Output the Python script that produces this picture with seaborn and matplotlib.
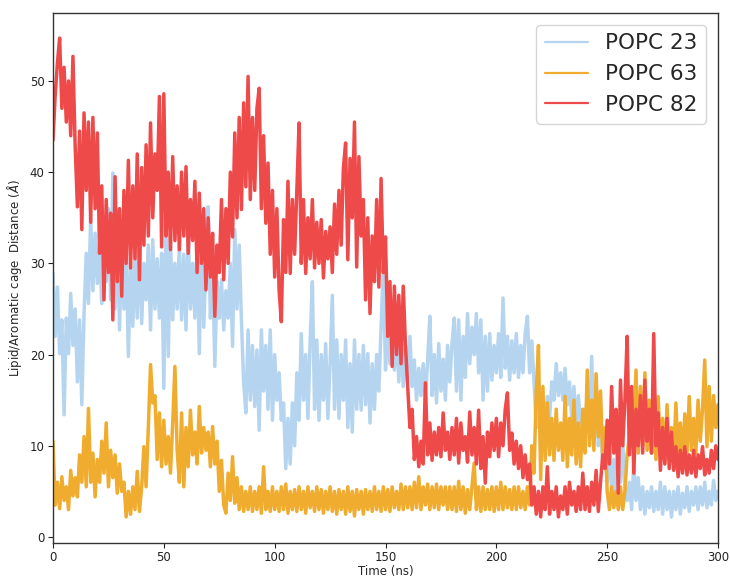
import numpy as np
import pandas as pd
import seaborn as sns
import matplotlib
matplotlib.use("Agg")
import matplotlib.pyplot as plt

# Time axis: one sample per ns, 0..300 ns
time_ns = list(range(0, 301))

popc23 = [
    28.9, 22.0, 27.4, 20.1, 23.8, 13.4, 24.0, 20.1, 26.7, 21.0,
    25.0, 17.0, 23.8, 14.5, 24.5, 31.1, 25.6, 35.1, 27.0, 33.3,
    27.8, 32.0, 25.6, 34.0, 28.0, 36.0, 26.0, 39.9, 25.0, 35.5,
    22.7, 33.0, 25.0, 31.8, 19.8, 30.0, 23.1, 31.0, 24.0, 32.9,
    23.4, 30.0, 26.0, 32.0, 22.7, 32.6, 25.0, 30.5, 24.0, 31.1,
    16.3, 36.0, 19.8, 32.6, 23.8, 30.0, 25.0, 32.0, 23.8, 31.0,
    22.7, 33.3, 25.0, 30.0, 24.0, 32.0, 20.1, 34.0, 23.0, 30.0,
    36.2, 24.0, 30.0, 18.7, 28.0, 24.0, 28.2, 22.7, 27.0, 24.0,
    30.0, 20.9, 33.7, 25.0, 32.0, 23.8, 17.0, 13.6, 22.7, 15.0,
    21.0, 14.3, 20.5, 11.7, 22.7, 16.0, 21.0, 14.0, 22.7, 12.8,
    20.0, 15.0, 18.0, 12.8, 14.7, 7.5, 13.0, 8.0, 14.7, 10.0,
    18.0, 12.8, 22.3, 15.0, 20.0, 13.0, 21.5, 28.0, 14.0, 21.6,
    12.8, 20.0, 15.0, 21.2, 13.0, 19.0, 26.5, 14.0, 21.6, 13.0,
    20.0, 15.0, 21.6, 12.0, 19.0, 11.5, 21.6, 14.0, 20.0, 13.9,
    21.0, 14.5, 20.1, 12.5, 19.0, 14.0, 20.0, 16.0, 23.0, 29.6,
    18.3, 23.8, 19.0, 22.5, 18.3, 23.0, 17.0, 22.3, 16.5, 21.0,
    17.0, 22.0, 16.5, 19.4, 15.0, 18.5, 15.5, 19.0, 15.0, 19.4,
    24.2, 15.5, 20.0, 14.7, 21.2, 16.0, 19.5, 15.0, 21.0, 17.0,
    21.2, 24.0, 16.0, 23.8, 15.0, 22.0, 17.5, 24.5, 19.0, 23.0,
    20.0, 24.5, 18.0, 23.8, 15.0, 22.0, 16.0, 22.3, 17.2, 21.0,
    18.0, 22.3, 17.5, 26.2, 18.5, 22.0, 17.2, 21.5, 18.0, 22.3,
    17.5, 21.0, 18.0, 22.3, 24.2, 18.0, 21.5, 17.0, 12.0, 15.0,
    9.2, 14.0, 12.5, 15.4, 13.0, 17.0, 15.0, 19.0, 15.5, 18.0,
    15.0, 18.5, 14.5, 17.0, 13.0, 16.5, 12.1, 15.5, 12.5, 14.0,
    11.0, 16.0, 12.0, 19.8, 11.0, 17.0, 10.0, 13.0, 8.0, 10.0,
    6.0, 9.9, 5.0, 8.5, 4.6, 9.0, 6.0, 10.5, 5.5, 4.0,
    6.0, 3.0, 8.1, 4.0, 6.5, 3.0, 5.5, 2.5, 5.0, 3.2,
    5.5, 2.8, 5.0, 3.0, 6.0, 2.5, 5.5, 3.0, 5.0, 2.2,
    5.0, 3.0, 5.5, 2.5, 4.8, 3.2, 5.5, 2.8, 5.0, 3.5,
    5.5, 3.0, 5.5, 3.5, 6.0, 3.2, 5.0, 3.5, 6.2, 4.0,
    5.0,
]

popc63 = [
    10.5, 3.5, 6.0, 3.1, 6.6, 4.0, 5.5, 3.0, 7.3, 4.5,
    6.5, 4.4, 9.0, 6.0, 11.0, 5.5, 14.1, 6.0, 9.2, 4.4,
    8.5, 6.0, 10.5, 7.0, 12.5, 5.5, 9.5, 6.5, 9.0, 4.8,
    8.0, 5.0, 6.0, 2.2, 5.0, 2.5, 5.5, 3.0, 7.2, 2.8,
    5.5, 9.9, 5.5, 12.0, 18.9, 14.7, 15.5, 8.5, 13.6, 7.7,
    12.8, 8.0, 11.0, 7.0, 12.5, 18.7, 9.5, 6.0, 13.6, 5.5,
    12.0, 7.7, 13.9, 9.0, 11.5, 8.0, 14.3, 9.2, 12.0, 9.5,
    11.5, 7.7, 12.1, 8.0, 10.5, 5.0, 8.4, 3.5, 2.6, 7.0,
    4.0, 8.8, 3.7, 6.5, 3.0, 5.5, 2.8, 5.0, 3.0, 5.5,
    2.8, 5.0, 3.0, 5.5, 2.6, 7.7, 3.0, 5.0, 2.8, 5.5,
    3.0, 5.0, 2.8, 5.5, 3.0, 5.8, 2.6, 5.0, 3.0, 5.2,
    2.8, 5.5, 3.0, 5.0, 2.6, 5.5, 3.2, 5.0, 2.8, 5.5,
    3.0, 5.2, 2.6, 5.0, 3.0, 5.5, 2.8, 5.0, 2.5, 5.2,
    3.0, 5.0, 2.5, 5.5, 2.8, 5.0, 2.3, 5.2, 3.0, 5.0,
    2.5, 5.2, 3.0, 5.0, 2.8, 5.5, 3.0, 5.0, 2.8, 5.5,
    3.0, 5.2, 2.8, 5.5, 3.2, 5.0, 3.0, 5.8, 3.0, 5.5,
    3.2, 5.5, 3.0, 6.0, 3.2, 6.6, 3.0, 5.5, 3.5, 5.8,
    3.0, 5.5, 3.2, 5.8, 3.0, 5.5, 3.5, 5.5, 3.0, 5.5,
    3.0, 5.5, 2.8, 6.1, 3.0, 5.5, 2.6, 5.2, 3.0, 5.5,
    8.1, 3.0, 5.5, 2.8, 5.5, 3.0, 5.2, 3.0, 5.5, 2.8,
    5.5, 3.0, 6.0, 3.0, 5.5, 3.2, 5.2, 3.0, 5.5, 3.0,
    5.5, 3.2, 5.0, 3.0, 5.5, 3.5, 10.0, 7.0, 16.0, 21.0,
    6.3, 16.5, 8.4, 14.7, 9.0, 13.0, 8.4, 14.0, 9.5, 12.5,
    8.4, 15.4, 7.7, 13.0, 9.0, 15.0, 8.0, 12.5, 7.7, 14.0,
    9.2, 18.3, 10.0, 15.0, 9.5, 17.9, 11.0, 16.0, 8.5, 12.0,
    5.0, 3.0, 5.5, 3.2, 5.0, 3.0, 5.5, 3.0, 5.0, 9.0,
    11.0, 14.0, 12.5, 18.3, 9.2, 16.5, 10.0, 18.0, 9.5, 15.0,
    9.2, 16.0, 8.5, 15.4, 9.0, 13.0, 8.1, 14.5, 8.5, 12.0,
    8.5, 14.7, 9.0, 12.5, 8.1, 13.5, 9.0, 15.4, 9.5, 13.0,
    9.2, 15.0, 10.5, 14.0, 19.4, 9.9, 16.5, 10.5, 15.5, 12.0,
    14.5,
]

popc82 = [
    43.5, 48.5, 52.0, 54.7, 47.0, 51.5, 45.5, 50.0, 44.0, 52.7,
    42.8, 36.2, 44.5, 33.7, 46.5, 38.0, 45.5, 34.5, 46.0, 36.0,
    44.3, 31.1, 38.5, 26.0, 37.0, 29.0, 35.5, 23.8, 39.5, 28.0,
    36.0, 26.4, 38.0, 30.0, 41.3, 29.5, 38.5, 30.5, 42.0, 28.2,
    40.5, 32.0, 43.0, 33.0, 45.4, 35.0, 42.0, 38.0, 48.3, 31.8,
    48.6, 33.0, 40.0, 31.5, 41.7, 32.5, 38.5, 31.5, 40.0, 33.0,
    40.6, 31.1, 37.0, 32.5, 39.0, 29.0, 37.7, 30.0, 36.0, 27.1,
    35.0, 28.5, 33.3, 24.2, 32.0, 29.0, 37.0, 28.2, 36.0, 30.0,
    40.0, 32.9, 44.3, 35.0, 46.0, 35.9, 47.6, 38.4, 50.5, 37.0,
    46.0, 38.0, 47.0, 49.2, 36.0, 44.0, 34.4, 41.0, 31.0, 38.0,
    28.5, 36.0, 27.0, 23.6, 34.8, 29.0, 39.0, 28.9, 37.0, 31.0,
    38.0, 45.4, 30.0, 37.0, 28.9, 35.0, 30.5, 37.0, 29.5, 34.5,
    30.0, 34.8, 28.4, 33.5, 30.5, 34.0, 29.0, 36.5, 31.0, 38.0,
    32.0, 40.5, 43.2, 30.4, 41.5, 35.0, 45.5, 29.6, 41.7, 33.0,
    37.0, 26.0, 35.0, 24.5, 33.0, 28.0, 37.0, 27.4, 39.3, 29.0,
    32.9, 22.0, 28.0, 18.7, 27.5, 20.0, 26.5, 19.0, 27.5, 21.0,
    16.5, 12.0, 14.0, 8.5, 11.0, 7.7, 10.5, 8.0, 16.9, 9.0,
    12.5, 8.4, 11.5, 9.0, 12.0, 8.8, 13.6, 9.5, 11.5, 8.5,
    12.0, 9.0, 13.0, 8.1, 12.5, 9.5, 11.0, 8.2, 13.7, 9.0,
    12.0, 8.0, 13.9, 7.5, 11.0, 5.9, 11.5, 8.8, 12.5, 9.5,
    13.0, 8.8, 12.5, 10.0, 14.0, 15.8, 9.5, 11.4, 8.0, 10.5,
    7.5, 10.0, 6.5, 9.0, 6.3, 8.0, 3.5, 5.5, 2.5, 5.0,
    2.2, 5.5, 3.0, 7.7, 2.5, 5.0, 3.0, 5.5, 2.2, 4.5,
    3.0, 5.5, 2.5, 6.0, 3.5, 5.0, 2.8, 5.5, 3.0, 7.0,
    3.0, 5.5, 2.8, 6.0, 3.5, 7.3, 2.8, 6.0, 9.0, 7.5,
    12.8, 8.0, 16.5, 9.2, 14.0, 4.8, 17.2, 10.0, 15.0, 22.0,
    9.0, 16.5, 7.0, 14.0, 10.0, 15.5, 9.2, 17.2, 10.5, 14.0,
    9.2, 22.3, 10.0, 13.6, 7.3, 12.0, 8.0, 13.0, 7.5, 11.5,
    7.3, 9.9, 6.6, 9.5, 7.0, 9.9, 6.8, 9.0, 7.0, 9.5,
    6.6, 9.0, 7.5, 9.9, 6.8, 8.5, 7.0, 9.5, 7.5, 10.0,
    8.5,
]

series_names = ["POPC 23", "POPC 63", "POPC 82"]
series_colors = ["#b4d4f0", "#f0ac2f", "#ee4a4a"]

frames = []
for name, vals in zip(series_names, [popc23, popc63, popc82]):
    frames.append(pd.DataFrame({"Time (ns)": time_ns, "Distance": vals, "Lipid": name}))
df = pd.concat(frames, ignore_index=True)

sns.set_style("ticks")
plt.rcParams["font.family"] = ["DejaVu Sans"]

fig = plt.figure(figsize=(7.30, 5.78), dpi=100)
ax = fig.add_axes([0.0726, 0.0606, 0.911, 0.917])

sns.lineplot(
    data=df, x="Time (ns)", y="Distance", hue="Lipid",
    hue_order=series_names, palette=dict(zip(series_names, series_colors)),
    linewidth=2.5, ax=ax, legend=False, sort=False,
)

ax.set_xlim(0, 300)
ax.set_ylim(-0.66, 57.46)
ax.set_xticks([0, 50, 100, 150, 200, 250, 300])
ax.set_yticks([0, 10, 20, 30, 40, 50])
ax.tick_params(labelsize=8.5, length=3.5, width=0.8, colors="#222222", pad=2.5)
ax.set_xlabel("Time (ns)", fontsize=8.5, labelpad=0.5)
ax.set_ylabel(r"Lipid/Aromatic cage  Distance ($\AA$)", fontsize=8.5, labelpad=4)
for sp in ax.spines.values():
    sp.set_color("#333333")
    sp.set_linewidth(1.0)

handles = [plt.Line2D([], [], color=c, lw=1.6) for c in series_colors]
ax.legend(handles, series_names, loc="upper right", fontsize=15.5,
          frameon=True, borderaxespad=0.55, handlelength=2.0,
          labelspacing=0.5, borderpad=0.4)

fig.savefig("out.png", dpi=100)
